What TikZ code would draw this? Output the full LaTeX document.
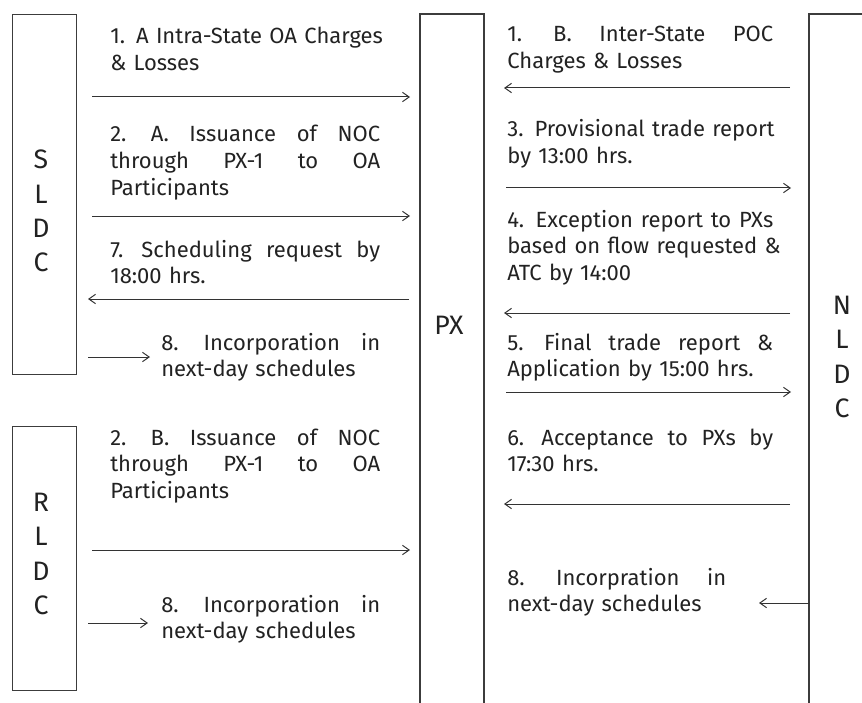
\documentclass[tikz,border=0pt]{standalone}
\usepackage{fontspec}
\setmainfont{Fira Sans}
\usetikzlibrary{arrows.meta}
\definecolor{boxgray}{HTML}{3C3C3C}
\definecolor{linegray}{HTML}{333333}
\definecolor{textgray}{HTML}{222222}
\newcommand\jl[2][202.5pt]{\makebox[#1][l]{#2}}
\newcommand\wsp{ \hfill }
\begin{document}
\begin{tikzpicture}[x=0.75pt,y=-0.75pt,
  box/.style={draw=boxgray, line width=1.1pt, rectangle, inner sep=0pt, anchor=north west},
  frame/.style={draw=boxgray, line width=1.1pt},
  arr/.style={draw=linegray, line width=0.75pt, -{Straight Barb[length=5pt,width=7pt]}},
  txt/.style={inner sep=0pt, anchor=base west, align=left, text width=202.5pt,
    font=\fontsize{16.5}{20}\selectfont, text=textgray},
  txtr/.style={txt, text width=199.5pt},
  txts/.style={txt, text width=164.25pt},
  big/.style={inner sep=0pt, align=center, font=\fontsize{20}{25.7}\selectfont, text=textgray}]
\useasboundingbox (0,0) rectangle (862,702);
% boxes
\node[box, minimum width=48pt, minimum height=270pt] (sldc) at (12,14) {};
\node[box, minimum width=48pt, minimum height=198pt] (rldc) at (12,426) {};
\draw[frame] (420,705) -- (420,14) -- (484,14) -- (484,705);
\draw[frame] (809,705) -- (809,14) -- (866,14);
% big labels
\node[big] (sl) at (41,211) {S\\L\\D\\C};
\node[big] (rl) at (41,554) {R\\L\\D\\C};
\node[big] (px) at (449,325) {PX};
\node[big] (nl) at (842,357) {N\\L\\D\\C};
% left texts
\node[txt] (t1a) at (110,44) {\jl{1.\wsp A\wsp Intra-State\wsp OA\wsp Charges}\\\& Losses};
\node[txt] (t2a) at (110,142) {\jl{2.\wsp A.\wsp Issuance\wsp of\wsp NOC}\\\jl{through\wsp PX-1\wsp to\wsp OA}\\Participants};
\node[txt] (t7) at (110,257) {\jl{7.\wsp Scheduling\wsp request\wsp by}\\18:00 hrs.};
\node[txts] (t8a) at (161,350) {\jl[164.25pt]{8.\wsp Incorporation\wsp in}\\next-day schedules};
\node[txt] (t2b) at (110,445) {\jl{2.\wsp B.\wsp Issuance\wsp of\wsp NOC}\\\jl{through\wsp PX-1\wsp to\wsp OA}\\Participants};
\node[txts] (t8b) at (161,612) {\jl[164.25pt]{8.\wsp Incorporation\wsp in}\\next-day schedules};
% right texts
\node[txtr] (r1) at (507,42) {\jl[199.5pt]{1.\wsp B.\wsp Inter-State\wsp POC}\\Charges \& Losses};
\node[txtr] (r3) at (507,137) {\jl[199.5pt]{3.\wsp Provisional\wsp trade\wsp report}\\by 13:00 hrs.};
\node[txtr] (r4) at (507,227) {\jl[199.5pt]{4.\wsp Exception\wsp report\wsp to\wsp PXs}\\\jl[199.5pt]{based\wsp on\wsp flow\wsp requested\wsp \&}\\ATC by 14:00};
\node[txtr] (r5) at (507,350) {\jl[199.5pt]{5.\wsp Final\wsp trade\wsp report\wsp \&}\\Application by 15:00 hrs.};
\node[txtr] (r6) at (507,445) {\jl[199.5pt]{6.\wsp Acceptance\wsp to\wsp PXs\wsp by}\\17:30 hrs.};
\node[txts] (r8) at (507,585) {\jl[164.25pt]{8.\wsp Incorpration\wsp in}\\next-day schedules};
% arrows left
\draw[arr] (92,97) -- (410,97);
\draw[arr] (92,216) -- (410,216);
\draw[arr] (409,299) -- (88,299);
\draw[arr] (88,357) -- (150,357);
\draw[arr] (92,550) -- (410,550);
\draw[arr] (88,623) -- (148,623);
% arrows right
\draw[arr] (790,88) -- (504,88);
\draw[arr] (506,188) -- (791,188);
\draw[arr] (790,313) -- (504,313);
\draw[arr] (506,392) -- (791,392);
\draw[arr] (790,504) -- (504,504);
\draw[arr] (809,603) -- (759,603);
\end{tikzpicture}
\end{document}
